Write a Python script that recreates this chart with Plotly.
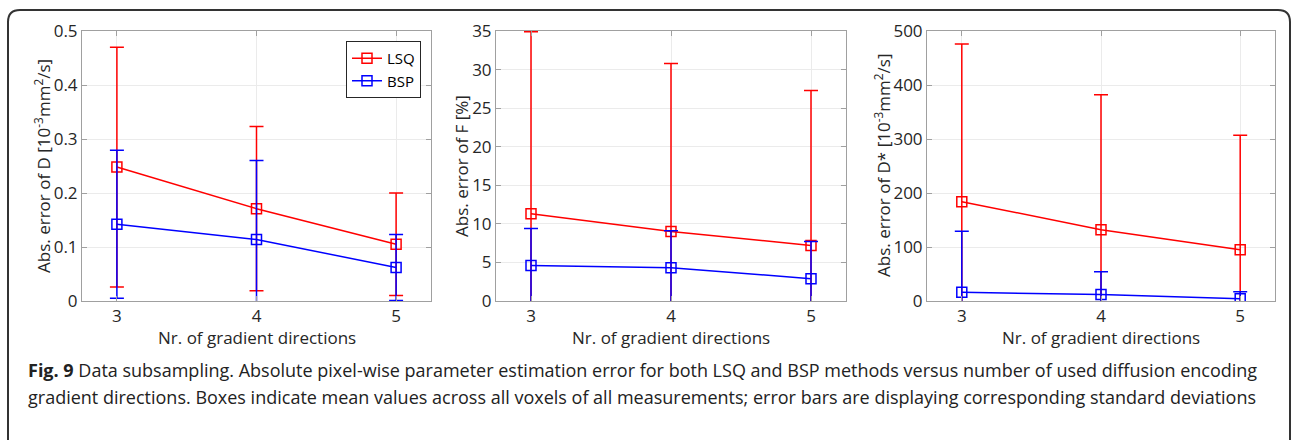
import plotly.graph_objects as go

# ---- data ----
directions = [3, 4, 5]

D_lsq_mean = [0.248, 0.171, 0.105]
D_lsq_std = [0.222, 0.152, 0.095]
D_bsp_mean = [0.142, 0.114, 0.062]
D_bsp_std = [0.137, 0.146, 0.061]

F_lsq_mean = [11.3, 9.0, 7.2]
F_lsq_std = [23.6, 21.8, 20.1]
F_bsp_mean = [4.6, 4.3, 2.9]
F_bsp_std = [4.8, 4.8, 4.8]

Ds_lsq_mean = [184, 132, 95]
Ds_lsq_std = [292, 250, 212]
Ds_bsp_mean = [16, 12, 4]
Ds_bsp_std = [113, 42, 13]

series_names = ["LSQ", "BSP"]
colors = ["#ff0000", "#0000ff"]

x_title = "Nr. of gradient directions"
y_titles = [
    "Abs. error of D [10<sup>-3</sup>mm<sup>2</sup>/s]",
    "Abs. error of F [%]",
    "Abs. error of D* [10<sup>-3</sup>mm<sup>2</sup>/s]",
]

panels = [
    (D_lsq_mean, D_lsq_std, D_bsp_mean, D_bsp_std, [0, 0.5], 0.1),
    (F_lsq_mean, F_lsq_std, F_bsp_mean, F_bsp_std, [0, 35], 5),
    (Ds_lsq_mean, Ds_lsq_std, Ds_bsp_mean, Ds_bsp_std, [0, 500], 100),
]

W, H = 1292, 440
x_domains = [(82 / W, 431 / W), (496 / W, 846 / W), (927 / W, 1275 / W)]
y_domain = (1 - 301 / H, 1 - 31 / H)
ytitle_x = [43, 462, 883]

FONT = "Open Sans, Lato, sans-serif"
TXT = "#262626"

fig = go.Figure()
layout = {}
for i, (lm, ls, bm, bs, yr, dt) in enumerate(panels):
    ax = "" if i == 0 else str(i + 1)
    for j, (m, s) in enumerate([(lm, ls), (bm, bs)]):
        fig.add_trace(go.Scatter(
            x=directions, y=m,
            error_y=dict(type="data", array=s, visible=True, color=colors[j],
                         thickness=1.5, width=7),
            mode="lines+markers",
            line=dict(color=colors[j], width=1.5),
            marker=dict(symbol="square-open", size=10, color=colors[j],
                        line=dict(width=1.5)),
            name=series_names[j], showlegend=(i == 0),
            xaxis="x" + ax, yaxis="y" + ax,
        ))
    common = dict(showline=True, mirror="allticks", linecolor="#a0a0a0",
                  linewidth=1, ticks="inside", ticklen=5, tickcolor="#a0a0a0",
                  showgrid=True, gridcolor="#ebebeb", zeroline=False,
                  automargin=False,
                  tickfont=dict(family=FONT, size=17, color=TXT))
    layout["xaxis" + ax] = dict(domain=x_domains[i], range=[2.75, 5.25],
                                tickvals=directions, anchor="y" + ax, **common)
    layout["yaxis" + ax] = dict(domain=y_domain, range=yr, dtick=dt,
                                anchor="x" + ax, **common)
    xc = (x_domains[i][0] + x_domains[i][1]) / 2
    fig.add_annotation(text=x_title, x=xc, y=1 - 337 / H, xref="paper", yref="paper",
                       xanchor="center", yanchor="middle", showarrow=False,
                       font=dict(family=FONT, size=17, color=TXT))
    fig.add_annotation(text=y_titles[i], x=ytitle_x[i] / W, y=(y_domain[0] + y_domain[1]) / 2,
                       xref="paper", yref="paper", textangle=-90,
                       xanchor="center", yanchor="middle", showarrow=False,
                       font=dict(family=FONT, size=17, color=TXT))

fig.update_layout(**layout)

# frame
x0, x1 = 8 / W, 1290 / W
yt, yb = 1 - 10 / H, -0.1
rx, ry = 12 / W, 12 / H
path = (f"M {x0},{yb} L {x0},{yt - ry} Q {x0},{yt} {x0 + rx},{yt} "
        f"L {x1 - rx},{yt} Q {x1},{yt} {x1},{yt - ry} L {x1},{yb}")
fig.add_shape(type="path", path=path, xref="paper", yref="paper",
              line=dict(color="#333333", width=2))

cap1 = ("<b>Fig. 9</b> Data subsampling. Absolute pixel-wise parameter estimation error "
        "for both LSQ and BSP methods versus number of used diffusion encoding")
cap2 = ("gradient directions. Boxes indicate mean values across all voxels of all "
        "measurements; error bars are displaying corresponding standard deviations")
for txt, yc in [(cap1, 370), (cap2, 397)]:
    fig.add_annotation(text=txt, x=26 / W, y=1 - yc / H, xref="paper", yref="paper",
                       xanchor="left", yanchor="middle", showarrow=False,
                       font=dict(family=FONT, size=18, color="#222222"))

fig.update_layout(
    width=W, height=H, autosize=False,
    margin=dict(l=0, r=0, t=0, b=0, autoexpand=False),
    paper_bgcolor="white", plot_bgcolor="white",
    legend=dict(x=421 / W, y=1 - 41 / H, xanchor="right", yanchor="top",
                bordercolor=TXT, borderwidth=1, bgcolor="white",
                font=dict(family=FONT, size=15, color="#000000"),
                itemwidth=30, tracegroupgap=0),
)

fig.write_html("out.html")
